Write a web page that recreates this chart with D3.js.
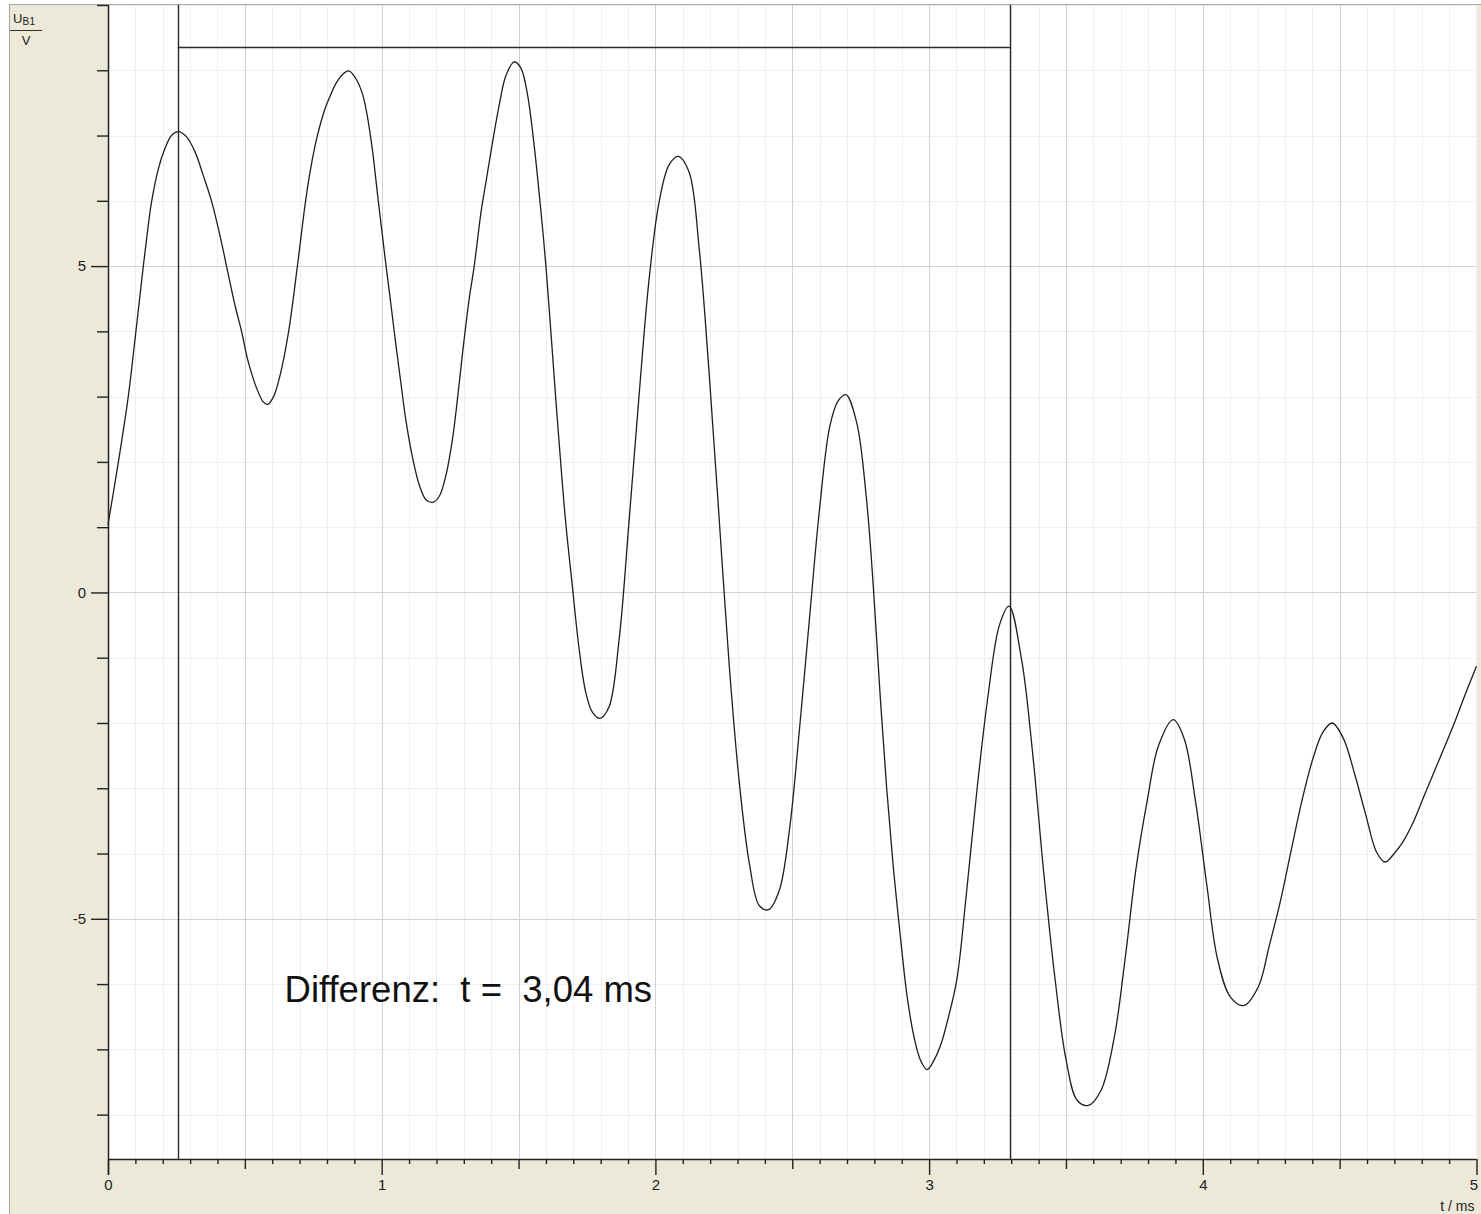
<!DOCTYPE html>
<html><head><meta charset="utf-8">
<script src="https://cdn.jsdelivr.net/npm/d3@7"></script>
<style>html,body{margin:0;padding:0;background:#fff;} svg{display:block;}</style>
</head><body><svg id="c" width="1481" height="1214"></svg>
<script>
// ---- data ----
const timeMs = [
 0,0.038,0.074,0.102,0.129,0.147,0.159,0.184,0.208,0.232,0.257,0.287,0.318,0.348,0.378,0.409,0.433,0.464,0.488,0.512,
 0.543,0.567,0.583,0.605,0.63,0.66,0.692,0.722,0.745,0.765,0.792,0.809,0.833,0.858,0.88,0.906,0.931,0.949,0.967,0.985,
 1.004,1.016,1.034,1.052,1.071,1.089,1.113,1.137,1.162,1.186,1.21,1.235,1.259,1.277,1.296,1.32,1.338,1.363,1.381,1.405,
 1.429,1.454,1.484,1.509,1.533,1.557,1.582,1.6,1.618,1.636,1.648,1.671,1.696,1.72,1.745,1.769,1.797,1.83,1.867,1.903,
 1.94,1.977,2.013,2.05,2.084,2.123,2.16,2.197,2.233,2.27,2.307,2.344,2.38,2.414,2.453,2.49,2.527,2.564,2.6,2.637,
 2.667,2.696,2.735,2.771,2.796,2.82,2.845,2.869,2.892,2.92,2.946,2.97,2.993,3.02,3.045,3.068,3.101,3.135,3.176,3.216,
 3.257,3.292,3.338,3.378,3.419,3.459,3.5,3.541,3.581,3.628,3.676,3.716,3.757,3.797,3.838,3.892,3.932,3.973,4.014,4.054,
 4.101,4.149,4.203,4.243,4.284,4.324,4.365,4.405,4.439,4.473,4.514,4.554,4.595,4.635,4.666,4.703,4.73,4.77,4.811,4.885,
 4.919,4.959,5.0
];
const voltage = [
 1.04,2.0,3.0,4.0,5.0,5.62,5.98,6.49,6.8,7.0,7.06,6.98,6.75,6.39,6.0,5.47,5.0,4.4,4.0,3.54,
 3.13,2.92,2.88,3.0,3.35,4.0,5.0,6.0,6.6,7.0,7.4,7.58,7.8,7.94,7.99,7.87,7.62,7.26,6.75,6.09,
 5.42,5.0,4.4,3.79,3.18,2.62,2.06,1.65,1.42,1.38,1.47,1.8,2.36,2.97,3.69,4.51,5.0,5.83,6.29,6.9,
 7.46,7.92,8.13,8.03,7.62,6.85,5.83,5.0,4.0,2.97,2.31,1.13,0.12,-0.82,-1.52,-1.83,-1.93,-1.76,-0.74,1.05,
 3.0,4.8,5.97,6.55,6.68,6.44,5.27,3.32,1.13,-1.13,-2.93,-4.17,-4.8,-4.86,-4.56,-3.63,-2.07,-0.35,1.29,2.54,
 2.93,3.03,2.61,1.44,0.1,-1.5,-3.0,-4.2,-5.15,-6.2,-6.83,-7.18,-7.31,-7.15,-6.9,-6.55,-5.94,-4.67,-2.98,-1.56,
 -0.5,-0.21,-1.03,-2.45,-4.3,-5.88,-7.15,-7.78,-7.86,-7.63,-6.83,-5.62,-4.2,-3.19,-2.35,-1.95,-2.24,-3.19,-4.46,-5.62,
 -6.2,-6.33,-6.04,-5.41,-4.72,-3.93,-3.14,-2.51,-2.14,-2.0,-2.24,-2.77,-3.4,-3.98,-4.13,-3.98,-3.83,-3.51,-3.09,-2.35,
 -2.0,-1.56,-1.13
];
const xDomain = [0, 5];
const yDomain = [-8.68, 9.0];
const xTickLabels = [0, 1, 2, 3, 4, 5];
const yTickLabels = [-5, 0, 5];
const cursorTimes = [0.255, 3.295];
const bracketLevel = 8.35;
const annotationText = "Differenz:  t =  3,04 ms";
const annotationAt = [0.645, -6.27];
const yUnitTop = "U", yUnitSub = "B1", yUnitBottom = "V";
const xUnit = "t / ms";

// ---- layout ----
const W = 1481, H = 1214;
const L = 108, R = 1476.5, T = 5, B = 1159;
const svg = d3.select("#c");
const x = d3.scaleLinear().domain(xDomain).range([L, R]);
const y = d3.scaleLinear().domain(yDomain).range([B, T]);

// panel
svg.append("rect").attr("x", 9.5).attr("y", 4.5).attr("width", W).attr("height", H)
  .attr("fill", "#ECE9D8").attr("stroke", "#A7A6A0").attr("stroke-width", 1);
svg.append("rect").attr("x", L).attr("y", T).attr("width", R - L).attr("height", B - T).attr("fill", "#fff");

// grid
const g = svg.append("g");
const xs = d3.range(0, 50.5, 1).map(i => i / 10);
const ys = d3.range(Math.ceil(yDomain[0]), Math.floor(yDomain[1]) + 1);
const isHalf = v => Math.abs(v * 2 - Math.round(v * 2)) < 1e-6;
g.selectAll(".vm").data(xs.filter(v => !isHalf(v))).join("line")
  .attr("x1", d => Math.round(x(d)) + 0.5).attr("x2", d => Math.round(x(d)) + 0.5)
  .attr("y1", T).attr("y2", B).attr("stroke", "#EFEFEF");
g.selectAll(".hm").data(ys.filter(v => v % 5 !== 0)).join("line")
  .attr("y1", d => Math.round(y(d)) + 0.5).attr("y2", d => Math.round(y(d)) + 0.5)
  .attr("x1", L).attr("x2", R).attr("stroke", "#EFEFEF");
g.selectAll(".vM").data(xs.filter(v => isHalf(v) && v > 0 && v < 5)).join("line")
  .attr("x1", d => Math.round(x(d)) + 0.5).attr("x2", d => Math.round(x(d)) + 0.5)
  .attr("y1", T).attr("y2", B).attr("stroke", "#D2D2D2");
g.selectAll(".hM").data(ys.filter(v => v % 5 === 0)).join("line")
  .attr("y1", d => Math.round(y(d)) + 0.5).attr("y2", d => Math.round(y(d)) + 0.5)
  .attr("x1", L).attr("x2", R).attr("stroke", "#D2D2D2");

// curve
const pts = timeMs.map((t, i) => [t, voltage[i]]);
svg.append("path").datum(pts)
  .attr("d", d3.line().x(d => x(d[0])).y(d => y(d[1])).curve(d3.curveCatmullRom.alpha(0.5)))
  .attr("fill", "none").attr("stroke", "#1e1e1e").attr("stroke-width", 1.3);

// cursors
svg.selectAll(".cur").data(cursorTimes).join("line")
  .attr("x1", d => Math.round(x(d)) + 0.5).attr("x2", d => Math.round(x(d)) + 0.5)
  .attr("y1", T).attr("y2", B).attr("stroke", "#2a2a2a").attr("stroke-width", 1.4);
svg.append("line")
  .attr("x1", x(cursorTimes[0])).attr("x2", x(cursorTimes[1]))
  .attr("y1", Math.round(y(bracketLevel)) + 0.5).attr("y2", Math.round(y(bracketLevel)) + 0.5)
  .attr("stroke", "#2a2a2a").attr("stroke-width", 1.4);

// axes
const font = "'Liberation Sans', Arial, sans-serif";
const ax = svg.append("g").attr("transform", `translate(0,${B})`);
const tickStyle = sel => { sel.select(".domain").remove(); sel.selectAll("line").attr("stroke", "#222").attr("stroke-width", 1.4); };
ax.append("g").call(d3.axisBottom(x).tickValues(xs.filter(v => !isHalf(v))).tickSize(5).tickFormat("")).call(tickStyle);
ax.append("g").call(d3.axisBottom(x).tickValues(xs.filter(v => isHalf(v) && Math.abs(v - Math.round(v)) > 1e-6)).tickSize(10).tickFormat("")).call(tickStyle);
const xl = ax.append("g").call(d3.axisBottom(x).tickValues(xTickLabels).tickSize(16).tickPadding(4).tickFormat(d => String(d))).call(tickStyle);
xl.selectAll("text").attr("font-family", font).attr("font-size", 15).attr("fill", "#222");
xl.selectAll("text").filter(d => d === xDomain[1]).attr("text-anchor", "end").attr("dx", 1);
svg.append("line").attr("x1", L).attr("x2", R).attr("y1", B + 0.5).attr("y2", B + 0.5).attr("stroke", "#222").attr("stroke-width", 1.5);

const ay = svg.append("g").attr("transform", `translate(${L},0)`);
ay.append("g").call(d3.axisLeft(y).tickValues(ys.filter(v => v % 5 !== 0)).tickSize(11).tickFormat("")).call(tickStyle);
const yl = ay.append("g").call(d3.axisLeft(y).tickValues(yTickLabels).tickSize(17).tickPadding(5).tickFormat(d => String(d))).call(tickStyle);
yl.selectAll("text").attr("font-family", font).attr("font-size", 15).attr("fill", "#222");
svg.append("line").attr("x1", L + 0.5).attr("x2", L + 0.5).attr("y1", T).attr("y2", B + 16).attr("stroke", "#222").attr("stroke-width", 1.5);

// unit labels
const ut = svg.append("text").attr("x", 13).attr("y", 23).attr("font-family", font).attr("font-size", 13).attr("fill", "#222");
ut.append("tspan").text(yUnitTop);
ut.append("tspan").attr("font-size", 10).attr("dy", 2).attr("letter-spacing", 0.5).text(yUnitSub);
svg.append("line").attr("x1", 10).attr("x2", 42).attr("y1", 30.5).attr("y2", 30.5).attr("stroke", "#333");
svg.append("text").attr("x", 26).attr("y", 45).attr("text-anchor", "middle").attr("font-family", font).attr("font-size", 13).attr("fill", "#222").text(yUnitBottom);
svg.append("text").attr("x", R - 2).attr("y", 1211).attr("text-anchor", "end").attr("font-family", font).attr("font-size", 14).attr("fill", "#222").text(xUnit);

// annotation
svg.append("text").attr("x", x(annotationAt[0])).attr("y", y(annotationAt[1]))
  .attr("font-family", font).attr("font-size", 36.5).attr("fill", "#111")
  .style("white-space", "pre").text(annotationText);
</script></body></html>
